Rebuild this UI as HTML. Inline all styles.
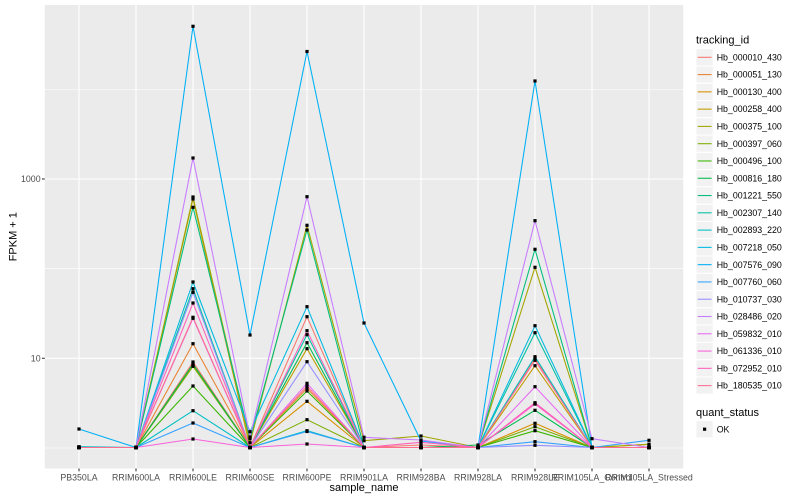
<!DOCTYPE html>
<html><head><meta charset="utf-8"><style>
html,body{margin:0;padding:0;background:#fff;}
svg{display:block;font-family:"Liberation Sans",Arial,sans-serif;}
</style></head><body>
<svg width="800" height="500" viewBox="0 0 800 500" xmlns="http://www.w3.org/2000/svg">
<defs>
<marker id="pt" markerUnits="userSpaceOnUse" markerWidth="4" markerHeight="4" refX="2" refY="2" viewBox="0 0 4 4"><rect x="0.4" y="0.4" width="3.2" height="3.2" fill="#000"/></marker>
</defs>
<rect x="0" y="0" width="800" height="500" fill="#fff"/>
<rect x="44.8" y="5" width="638.4" height="463.5" fill="#EBEBEB"/>
<g stroke="#fff" fill="none">
<line x1="44.8" x2="683.2" y1="89.5" y2="89.5" stroke-width="0.53"/>
<line x1="44.8" x2="683.2" y1="268.7" y2="268.7" stroke-width="0.53"/>
<line x1="44.8" x2="683.2" y1="448" y2="448" stroke-width="0.53"/>
<line x1="44.8" x2="683.2" y1="179" y2="179" stroke-width="1.07"/>
<line x1="44.8" x2="683.2" y1="358.3" y2="358.3" stroke-width="1.07"/>
<g stroke-width="1.07">
<line x1="79" x2="79" y1="5" y2="468.5"/><line x1="136" x2="136" y1="5" y2="468.5"/><line x1="193" x2="193" y1="5" y2="468.5"/><line x1="250" x2="250" y1="5" y2="468.5"/><line x1="307" x2="307" y1="5" y2="468.5"/><line x1="364" x2="364" y1="5" y2="468.5"/><line x1="421" x2="421" y1="5" y2="468.5"/><line x1="478" x2="478" y1="5" y2="468.5"/><line x1="535" x2="535" y1="5" y2="468.5"/><line x1="592" x2="592" y1="5" y2="468.5"/><line x1="649" x2="649" y1="5" y2="468.5"/>
</g></g>
<g fill="none" stroke-width="1.07" stroke-linejoin="round">
<polyline stroke="#F8766D" points="79,447.5 136,447.5 193,362 250,447.5 307,316.7 364,447.5 421,445 478,447.5 535,358.3 592,447.5 649,447.5"/>
<polyline stroke="#EA8331" points="79,447.5 136,447.5 193,343.7 250,447.5 307,388.3 364,447.5 421,447.5 478,447.5 535,404 592,447.5 649,447.5"/>
<polyline stroke="#D89000" points="79,447.5 136,447.5 193,365 250,447.5 307,401.3 364,447.5 421,447.5 478,447.5 535,423.3 592,447.5 649,444.3"/>
<polyline stroke="#C09B00" points="79,447.5 136,447.5 193,199 250,447.5 307,348.7 364,447.5 421,447.5 478,447.5 535,365.7 592,447.5 649,447.5"/>
<polyline stroke="#A3A500" points="79,447.5 136,447.5 193,197 250,442.7 307,225.3 364,440.7 421,436 478,447.5 535,267.3 592,447.5 649,444.3"/>
<polyline stroke="#7CAE00" points="79,447.5 136,447.5 193,366.3 250,447.5 307,419.7 364,447.5 421,447.5 478,447.5 535,426.7 592,447.5 649,447.5"/>
<polyline stroke="#39B600" points="79,447.5 136,447.5 193,386 250,447.5 307,391 364,447.5 421,447.5 478,447.5 535,430.7 592,447.5 649,447.5"/>
<polyline stroke="#00BB4E" points="79,447.5 136,447.5 193,364 250,447.5 307,342.7 364,447.5 421,447.5 478,445 535,410.3 592,447.5 649,447.5"/>
<polyline stroke="#00BF7D" points="79,447.5 136,447.5 193,207.3 250,438.7 307,230 364,447.5 421,447.5 478,447.5 535,249.3 592,447.5 649,447.5"/>
<polyline stroke="#00C1A3" points="79,447.5 136,447.5 193,288.7 250,447.5 307,334.7 364,447.5 421,447.5 478,447.5 535,332.7 592,447.5 649,447.5"/>
<polyline stroke="#00BFC4" points="79,446.7 136,447.5 193,410.7 250,447.5 307,430.7 364,447.5 421,447.5 478,447.5 535,356.7 592,447.5 649,447.5"/>
<polyline stroke="#00BAE0" points="79,447.5 136,447.5 193,282 250,431.7 307,306.7 364,447.5 421,447.5 478,447.5 535,325.7 592,447.5 649,447.5"/>
<polyline stroke="#00B0F6" points="79,429 136,447.5 193,26.3 250,335 307,51.5 364,323 421,441 478,447.5 535,81 592,447.5 649,447.5"/>
<polyline stroke="#35A2FF" points="79,447.5 136,447.5 193,423 250,447.5 307,431.5 364,447.5 421,447.5 478,447.5 535,441.7 592,447.5 649,440.3"/>
<polyline stroke="#9590FF" points="79,447.5 136,447.5 193,292.3 250,447.5 307,361.7 364,447.5 421,447.5 478,447.5 535,445.3 592,447.5 649,447.5"/>
<polyline stroke="#C77CFF" points="79,447.5 136,447.5 193,158 250,437 307,196.7 364,437.3 421,440 478,447.5 535,220.7 592,438.7 649,447.5"/>
<polyline stroke="#E76BF3" points="79,447.5 136,447.5 193,318.3 250,447.5 307,383.3 364,447.5 421,447.5 478,447.5 535,386.7 592,447.5 649,447.5"/>
<polyline stroke="#FA62DB" points="79,447.5 136,447.5 193,439 250,447.5 307,444 364,447.5 421,447.5 478,447.5 535,404 592,447.5 649,447.5"/>
<polyline stroke="#FF62BC" points="79,447.5 136,447.5 193,303 250,447.5 307,330.7 364,447.5 421,442.3 478,447.5 535,402.7 592,447.5 649,447.5"/>
<polyline stroke="#FF6C91" points="79,447.5 136,447.5 193,317.3 250,447.5 307,386 364,447.5 421,447.5 478,447.5 535,360.3 592,447.5 649,447.5"/>
</g>
<g fill="none" stroke="none" marker-start="url(#pt)" marker-mid="url(#pt)" marker-end="url(#pt)">
<polyline points="79,447.5 136,447.5 193,362 250,447.5 307,316.7 364,447.5 421,445 478,447.5 535,358.3 592,447.5 649,447.5"/>
<polyline points="79,447.5 136,447.5 193,343.7 250,447.5 307,388.3 364,447.5 421,447.5 478,447.5 535,404 592,447.5 649,447.5"/>
<polyline points="79,447.5 136,447.5 193,365 250,447.5 307,401.3 364,447.5 421,447.5 478,447.5 535,423.3 592,447.5 649,444.3"/>
<polyline points="79,447.5 136,447.5 193,199 250,447.5 307,348.7 364,447.5 421,447.5 478,447.5 535,365.7 592,447.5 649,447.5"/>
<polyline points="79,447.5 136,447.5 193,197 250,442.7 307,225.3 364,440.7 421,436 478,447.5 535,267.3 592,447.5 649,444.3"/>
<polyline points="79,447.5 136,447.5 193,366.3 250,447.5 307,419.7 364,447.5 421,447.5 478,447.5 535,426.7 592,447.5 649,447.5"/>
<polyline points="79,447.5 136,447.5 193,386 250,447.5 307,391 364,447.5 421,447.5 478,447.5 535,430.7 592,447.5 649,447.5"/>
<polyline points="79,447.5 136,447.5 193,364 250,447.5 307,342.7 364,447.5 421,447.5 478,445 535,410.3 592,447.5 649,447.5"/>
<polyline points="79,447.5 136,447.5 193,207.3 250,438.7 307,230 364,447.5 421,447.5 478,447.5 535,249.3 592,447.5 649,447.5"/>
<polyline points="79,447.5 136,447.5 193,288.7 250,447.5 307,334.7 364,447.5 421,447.5 478,447.5 535,332.7 592,447.5 649,447.5"/>
<polyline points="79,446.7 136,447.5 193,410.7 250,447.5 307,430.7 364,447.5 421,447.5 478,447.5 535,356.7 592,447.5 649,447.5"/>
<polyline points="79,447.5 136,447.5 193,282 250,431.7 307,306.7 364,447.5 421,447.5 478,447.5 535,325.7 592,447.5 649,447.5"/>
<polyline points="79,429 136,447.5 193,26.3 250,335 307,51.5 364,323 421,441 478,447.5 535,81 592,447.5 649,447.5"/>
<polyline points="79,447.5 136,447.5 193,423 250,447.5 307,431.5 364,447.5 421,447.5 478,447.5 535,441.7 592,447.5 649,440.3"/>
<polyline points="79,447.5 136,447.5 193,292.3 250,447.5 307,361.7 364,447.5 421,447.5 478,447.5 535,445.3 592,447.5 649,447.5"/>
<polyline points="79,447.5 136,447.5 193,158 250,437 307,196.7 364,437.3 421,440 478,447.5 535,220.7 592,438.7 649,447.5"/>
<polyline points="79,447.5 136,447.5 193,318.3 250,447.5 307,383.3 364,447.5 421,447.5 478,447.5 535,386.7 592,447.5 649,447.5"/>
<polyline points="79,447.5 136,447.5 193,439 250,447.5 307,444 364,447.5 421,447.5 478,447.5 535,404 592,447.5 649,447.5"/>
<polyline points="79,447.5 136,447.5 193,303 250,447.5 307,330.7 364,447.5 421,442.3 478,447.5 535,402.7 592,447.5 649,447.5"/>
<polyline points="79,447.5 136,447.5 193,317.3 250,447.5 307,386 364,447.5 421,447.5 478,447.5 535,360.3 592,447.5 649,447.5"/>
</g>
<g stroke="#333" stroke-width="1.07">
<line x1="42" x2="44.8" y1="179" y2="179"/><line x1="42" x2="44.8" y1="358.3" y2="358.3"/>
<line x1="79" x2="79" y1="468.5" y2="471.3"/><line x1="136" x2="136" y1="468.5" y2="471.3"/><line x1="193" x2="193" y1="468.5" y2="471.3"/><line x1="250" x2="250" y1="468.5" y2="471.3"/><line x1="307" x2="307" y1="468.5" y2="471.3"/><line x1="364" x2="364" y1="468.5" y2="471.3"/><line x1="421" x2="421" y1="468.5" y2="471.3"/><line x1="478" x2="478" y1="468.5" y2="471.3"/><line x1="535" x2="535" y1="468.5" y2="471.3"/><line x1="592" x2="592" y1="468.5" y2="471.3"/><line x1="649" x2="649" y1="468.5" y2="471.3"/>
</g>
<g fill="#4D4D4D" font-size="8.8">
<text x="40.6" y="182.2" text-anchor="end">1000</text>
<text x="40.6" y="361.5" text-anchor="end">10</text>
<g text-anchor="middle">
<text x="79" y="480.7">PB350LA</text><text x="136" y="480.7">RRIM600LA</text><text x="193" y="480.7">RRIM600LE</text><text x="250" y="480.7">RRIM600SE</text><text x="307" y="480.7">RRIM600PE</text><text x="364" y="480.7">RRIM901LA</text><text x="421" y="480.7">RRIM928BA</text><text x="478" y="480.7">RRIM928LA</text><text x="535" y="480.7">RRIM928LE</text><text x="592" y="480.7">RRIM105LA_Control</text><text x="649" y="480.7">RRIM105LA_Stressed</text>
</g></g>
<text x="364" y="491" text-anchor="middle" font-size="11" fill="#000">sample_name</text>
<text transform="translate(16.3,236.7) rotate(-90)" text-anchor="middle" font-size="11" fill="#000">FPKM + 1</text>
<text x="696" y="43.6" font-size="11" fill="#000">tracking_id</text>
<g font-size="8.8" fill="#000">
<g transform="translate(0,57.3)"><rect x="696" y="-8.64" width="17.28" height="17.28" fill="#F2F2F2" stroke="#fff" stroke-width="1.07"/><line x1="697.7" x2="711.6" y1="0" y2="0" stroke="#F8766D" stroke-width="1.07"/><text x="716.7" y="3.1">Hb_000010_430</text></g>
<g transform="translate(0,74.58)"><rect x="696" y="-8.64" width="17.28" height="17.28" fill="#F2F2F2" stroke="#fff" stroke-width="1.07"/><line x1="697.7" x2="711.6" y1="0" y2="0" stroke="#EA8331" stroke-width="1.07"/><text x="716.7" y="3.1">Hb_000051_130</text></g>
<g transform="translate(0,91.86)"><rect x="696" y="-8.64" width="17.28" height="17.28" fill="#F2F2F2" stroke="#fff" stroke-width="1.07"/><line x1="697.7" x2="711.6" y1="0" y2="0" stroke="#D89000" stroke-width="1.07"/><text x="716.7" y="3.1">Hb_000130_400</text></g>
<g transform="translate(0,109.14)"><rect x="696" y="-8.64" width="17.28" height="17.28" fill="#F2F2F2" stroke="#fff" stroke-width="1.07"/><line x1="697.7" x2="711.6" y1="0" y2="0" stroke="#C09B00" stroke-width="1.07"/><text x="716.7" y="3.1">Hb_000258_400</text></g>
<g transform="translate(0,126.42)"><rect x="696" y="-8.64" width="17.28" height="17.28" fill="#F2F2F2" stroke="#fff" stroke-width="1.07"/><line x1="697.7" x2="711.6" y1="0" y2="0" stroke="#A3A500" stroke-width="1.07"/><text x="716.7" y="3.1">Hb_000375_100</text></g>
<g transform="translate(0,143.7)"><rect x="696" y="-8.64" width="17.28" height="17.28" fill="#F2F2F2" stroke="#fff" stroke-width="1.07"/><line x1="697.7" x2="711.6" y1="0" y2="0" stroke="#7CAE00" stroke-width="1.07"/><text x="716.7" y="3.1">Hb_000397_060</text></g>
<g transform="translate(0,160.98)"><rect x="696" y="-8.64" width="17.28" height="17.28" fill="#F2F2F2" stroke="#fff" stroke-width="1.07"/><line x1="697.7" x2="711.6" y1="0" y2="0" stroke="#39B600" stroke-width="1.07"/><text x="716.7" y="3.1">Hb_000496_100</text></g>
<g transform="translate(0,178.26)"><rect x="696" y="-8.64" width="17.28" height="17.28" fill="#F2F2F2" stroke="#fff" stroke-width="1.07"/><line x1="697.7" x2="711.6" y1="0" y2="0" stroke="#00BB4E" stroke-width="1.07"/><text x="716.7" y="3.1">Hb_000816_180</text></g>
<g transform="translate(0,195.54)"><rect x="696" y="-8.64" width="17.28" height="17.28" fill="#F2F2F2" stroke="#fff" stroke-width="1.07"/><line x1="697.7" x2="711.6" y1="0" y2="0" stroke="#00BF7D" stroke-width="1.07"/><text x="716.7" y="3.1">Hb_001221_550</text></g>
<g transform="translate(0,212.82)"><rect x="696" y="-8.64" width="17.28" height="17.28" fill="#F2F2F2" stroke="#fff" stroke-width="1.07"/><line x1="697.7" x2="711.6" y1="0" y2="0" stroke="#00C1A3" stroke-width="1.07"/><text x="716.7" y="3.1">Hb_002307_140</text></g>
<g transform="translate(0,230.1)"><rect x="696" y="-8.64" width="17.28" height="17.28" fill="#F2F2F2" stroke="#fff" stroke-width="1.07"/><line x1="697.7" x2="711.6" y1="0" y2="0" stroke="#00BFC4" stroke-width="1.07"/><text x="716.7" y="3.1">Hb_002893_220</text></g>
<g transform="translate(0,247.38)"><rect x="696" y="-8.64" width="17.28" height="17.28" fill="#F2F2F2" stroke="#fff" stroke-width="1.07"/><line x1="697.7" x2="711.6" y1="0" y2="0" stroke="#00BAE0" stroke-width="1.07"/><text x="716.7" y="3.1">Hb_007218_050</text></g>
<g transform="translate(0,264.66)"><rect x="696" y="-8.64" width="17.28" height="17.28" fill="#F2F2F2" stroke="#fff" stroke-width="1.07"/><line x1="697.7" x2="711.6" y1="0" y2="0" stroke="#00B0F6" stroke-width="1.07"/><text x="716.7" y="3.1">Hb_007576_090</text></g>
<g transform="translate(0,281.94)"><rect x="696" y="-8.64" width="17.28" height="17.28" fill="#F2F2F2" stroke="#fff" stroke-width="1.07"/><line x1="697.7" x2="711.6" y1="0" y2="0" stroke="#35A2FF" stroke-width="1.07"/><text x="716.7" y="3.1">Hb_007760_060</text></g>
<g transform="translate(0,299.22)"><rect x="696" y="-8.64" width="17.28" height="17.28" fill="#F2F2F2" stroke="#fff" stroke-width="1.07"/><line x1="697.7" x2="711.6" y1="0" y2="0" stroke="#9590FF" stroke-width="1.07"/><text x="716.7" y="3.1">Hb_010737_030</text></g>
<g transform="translate(0,316.5)"><rect x="696" y="-8.64" width="17.28" height="17.28" fill="#F2F2F2" stroke="#fff" stroke-width="1.07"/><line x1="697.7" x2="711.6" y1="0" y2="0" stroke="#C77CFF" stroke-width="1.07"/><text x="716.7" y="3.1">Hb_028486_020</text></g>
<g transform="translate(0,333.78)"><rect x="696" y="-8.64" width="17.28" height="17.28" fill="#F2F2F2" stroke="#fff" stroke-width="1.07"/><line x1="697.7" x2="711.6" y1="0" y2="0" stroke="#E76BF3" stroke-width="1.07"/><text x="716.7" y="3.1">Hb_059832_010</text></g>
<g transform="translate(0,351.06)"><rect x="696" y="-8.64" width="17.28" height="17.28" fill="#F2F2F2" stroke="#fff" stroke-width="1.07"/><line x1="697.7" x2="711.6" y1="0" y2="0" stroke="#FA62DB" stroke-width="1.07"/><text x="716.7" y="3.1">Hb_061336_010</text></g>
<g transform="translate(0,368.34)"><rect x="696" y="-8.64" width="17.28" height="17.28" fill="#F2F2F2" stroke="#fff" stroke-width="1.07"/><line x1="697.7" x2="711.6" y1="0" y2="0" stroke="#FF62BC" stroke-width="1.07"/><text x="716.7" y="3.1">Hb_072952_010</text></g>
<g transform="translate(0,385.62)"><rect x="696" y="-8.64" width="17.28" height="17.28" fill="#F2F2F2" stroke="#fff" stroke-width="1.07"/><line x1="697.7" x2="711.6" y1="0" y2="0" stroke="#FF6C91" stroke-width="1.07"/><text x="716.7" y="3.1">Hb_180535_010</text></g>
</g>
<text x="696" y="415.8" font-size="11" fill="#000">quant_status</text>
<g transform="translate(0,429.2)">
<rect x="696" y="-8.64" width="17.28" height="17.28" fill="#F2F2F2" stroke="#fff" stroke-width="1.07"/>
<rect x="703" y="-1.6" width="3.2" height="3.2" fill="#000"/>
<text x="716.7" y="3.1" font-size="8.8" fill="#000">OK</text>
</g>
</svg>
</body></html>
